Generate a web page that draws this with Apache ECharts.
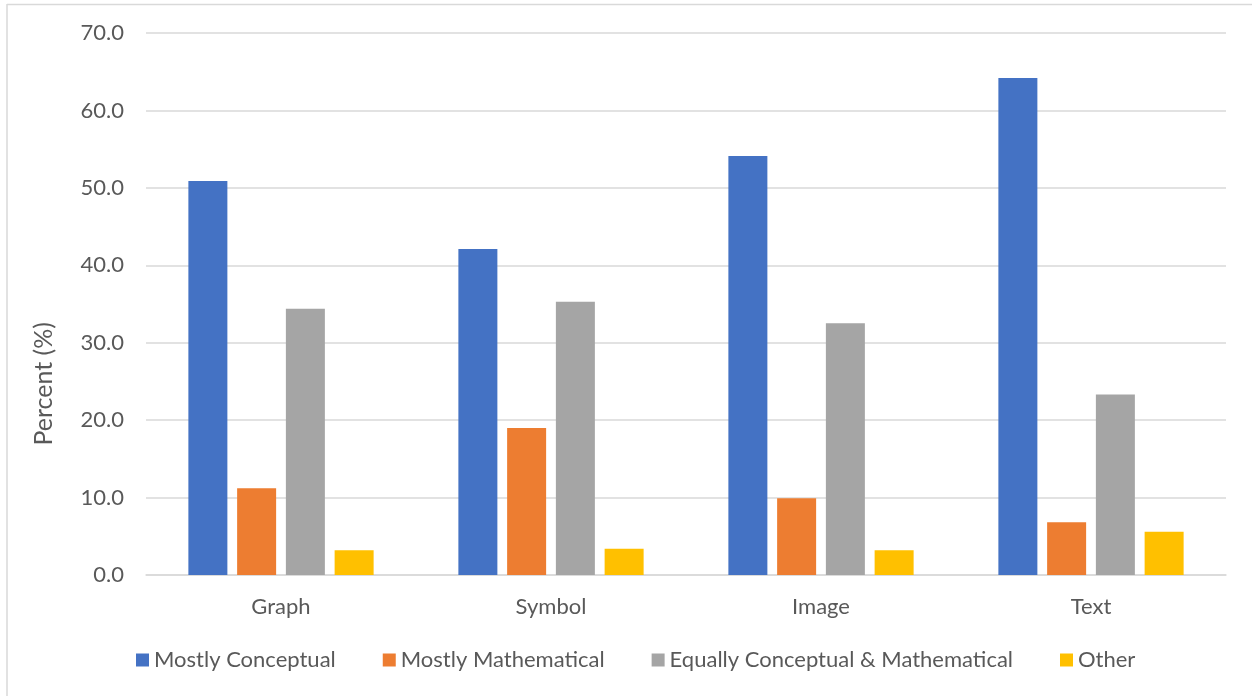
<!DOCTYPE html>
<html>
<head>
<meta charset="utf-8">
<script src="https://cdn.jsdelivr.net/npm/echarts@6/dist/echarts.min.js"></script>
<style>
  html, body { margin: 0; padding: 0; background: #fff; }
  #chart { width: 1252px; height: 696px; }
</style>
</head>
<body>
<div id="chart"></div>
<script>
// Representation types on the category axis
const categories = ['Graph', 'Symbol', 'Image', 'Text'];

// Percent of responses per reasoning style
const mostlyConceptual = [50.9, 42.1, 54.1, 64.2];
const mostlyMathematical = [11.2, 19.0, 9.9, 6.8];
const equallyBoth = [34.4, 35.3, 32.5, 23.3];
const other = [3.2, 3.4, 3.2, 5.6];

const seriesNames = ['Mostly Conceptual', 'Mostly Mathematical', 'Equally Conceptual & Mathematical', 'Other'];
const seriesColors = ['#4472c4', '#ed7d31', '#a5a5a5', '#ffc000'];
const seriesValues = [mostlyConceptual, mostlyMathematical, equallyBoth, other];

const textColor = '#595959';
const fontFamily = 'Lato, "Open Sans", sans-serif';

const chart = echarts.init(document.getElementById('chart'), null, { renderer: 'canvas' });

chart.setOption({
  backgroundColor: '#ffffff',
  animation: false,
  textStyle: { fontFamily: fontFamily, color: textColor },
  grid: { left: 146, right: 26, top: 33, bottom: 121, containLabel: false },
  legend: {
    top: 644,
    left: 131,
    itemWidth: 13,
    itemHeight: 13,
    itemGap: 47,
    icon: 'rect',
    textStyle: { fontSize: 22, color: textColor, fontFamily: fontFamily },
    data: seriesNames
  },
  xAxis: {
    type: 'category',
    data: categories,
    axisLine: { show: true, lineStyle: { color: '#d9d9d9', width: 1.5 } },
    axisTick: { show: false },
    axisLabel: { color: textColor, fontSize: 22, margin: 21, fontFamily: fontFamily }
  },
  yAxis: {
    type: 'value',
    min: 0,
    max: 70,
    interval: 10,
    axisLine: { show: false },
    axisTick: { show: false },
    splitLine: { lineStyle: { color: '#d9d9d9', width: 1.5 } },
    axisLabel: {
      color: textColor,
      fontSize: 22,
      margin: 22,
      fontFamily: fontFamily,
      formatter: v => v.toFixed(1)
    }
  },
  graphic: [
    {
      type: 'text',
      left: 31,
      top: 322,
      rotation: Math.PI / 2,
      style: {
        text: 'Percent (%)',
        fill: textColor,
        font: '25px ' + fontFamily
      }
    },
    {
      type: 'line',
      shape: { x1: 7, y1: 4.5, x2: 1252, y2: 4.5 },
      style: { stroke: '#d9d9d9', lineWidth: 1.5 }
    },
    {
      type: 'line',
      shape: { x1: 7, y1: 4, x2: 7, y2: 696 },
      style: { stroke: '#d9d9d9', lineWidth: 1.5 }
    }
  ],
  series: seriesNames.map((name, i) => ({
    name: name,
    type: 'bar',
    data: seriesValues[i],
    barWidth: 39,
    barGap: '25%',
    itemStyle: { color: seriesColors[i] }
  }))
});
</script>
</body>
</html>
